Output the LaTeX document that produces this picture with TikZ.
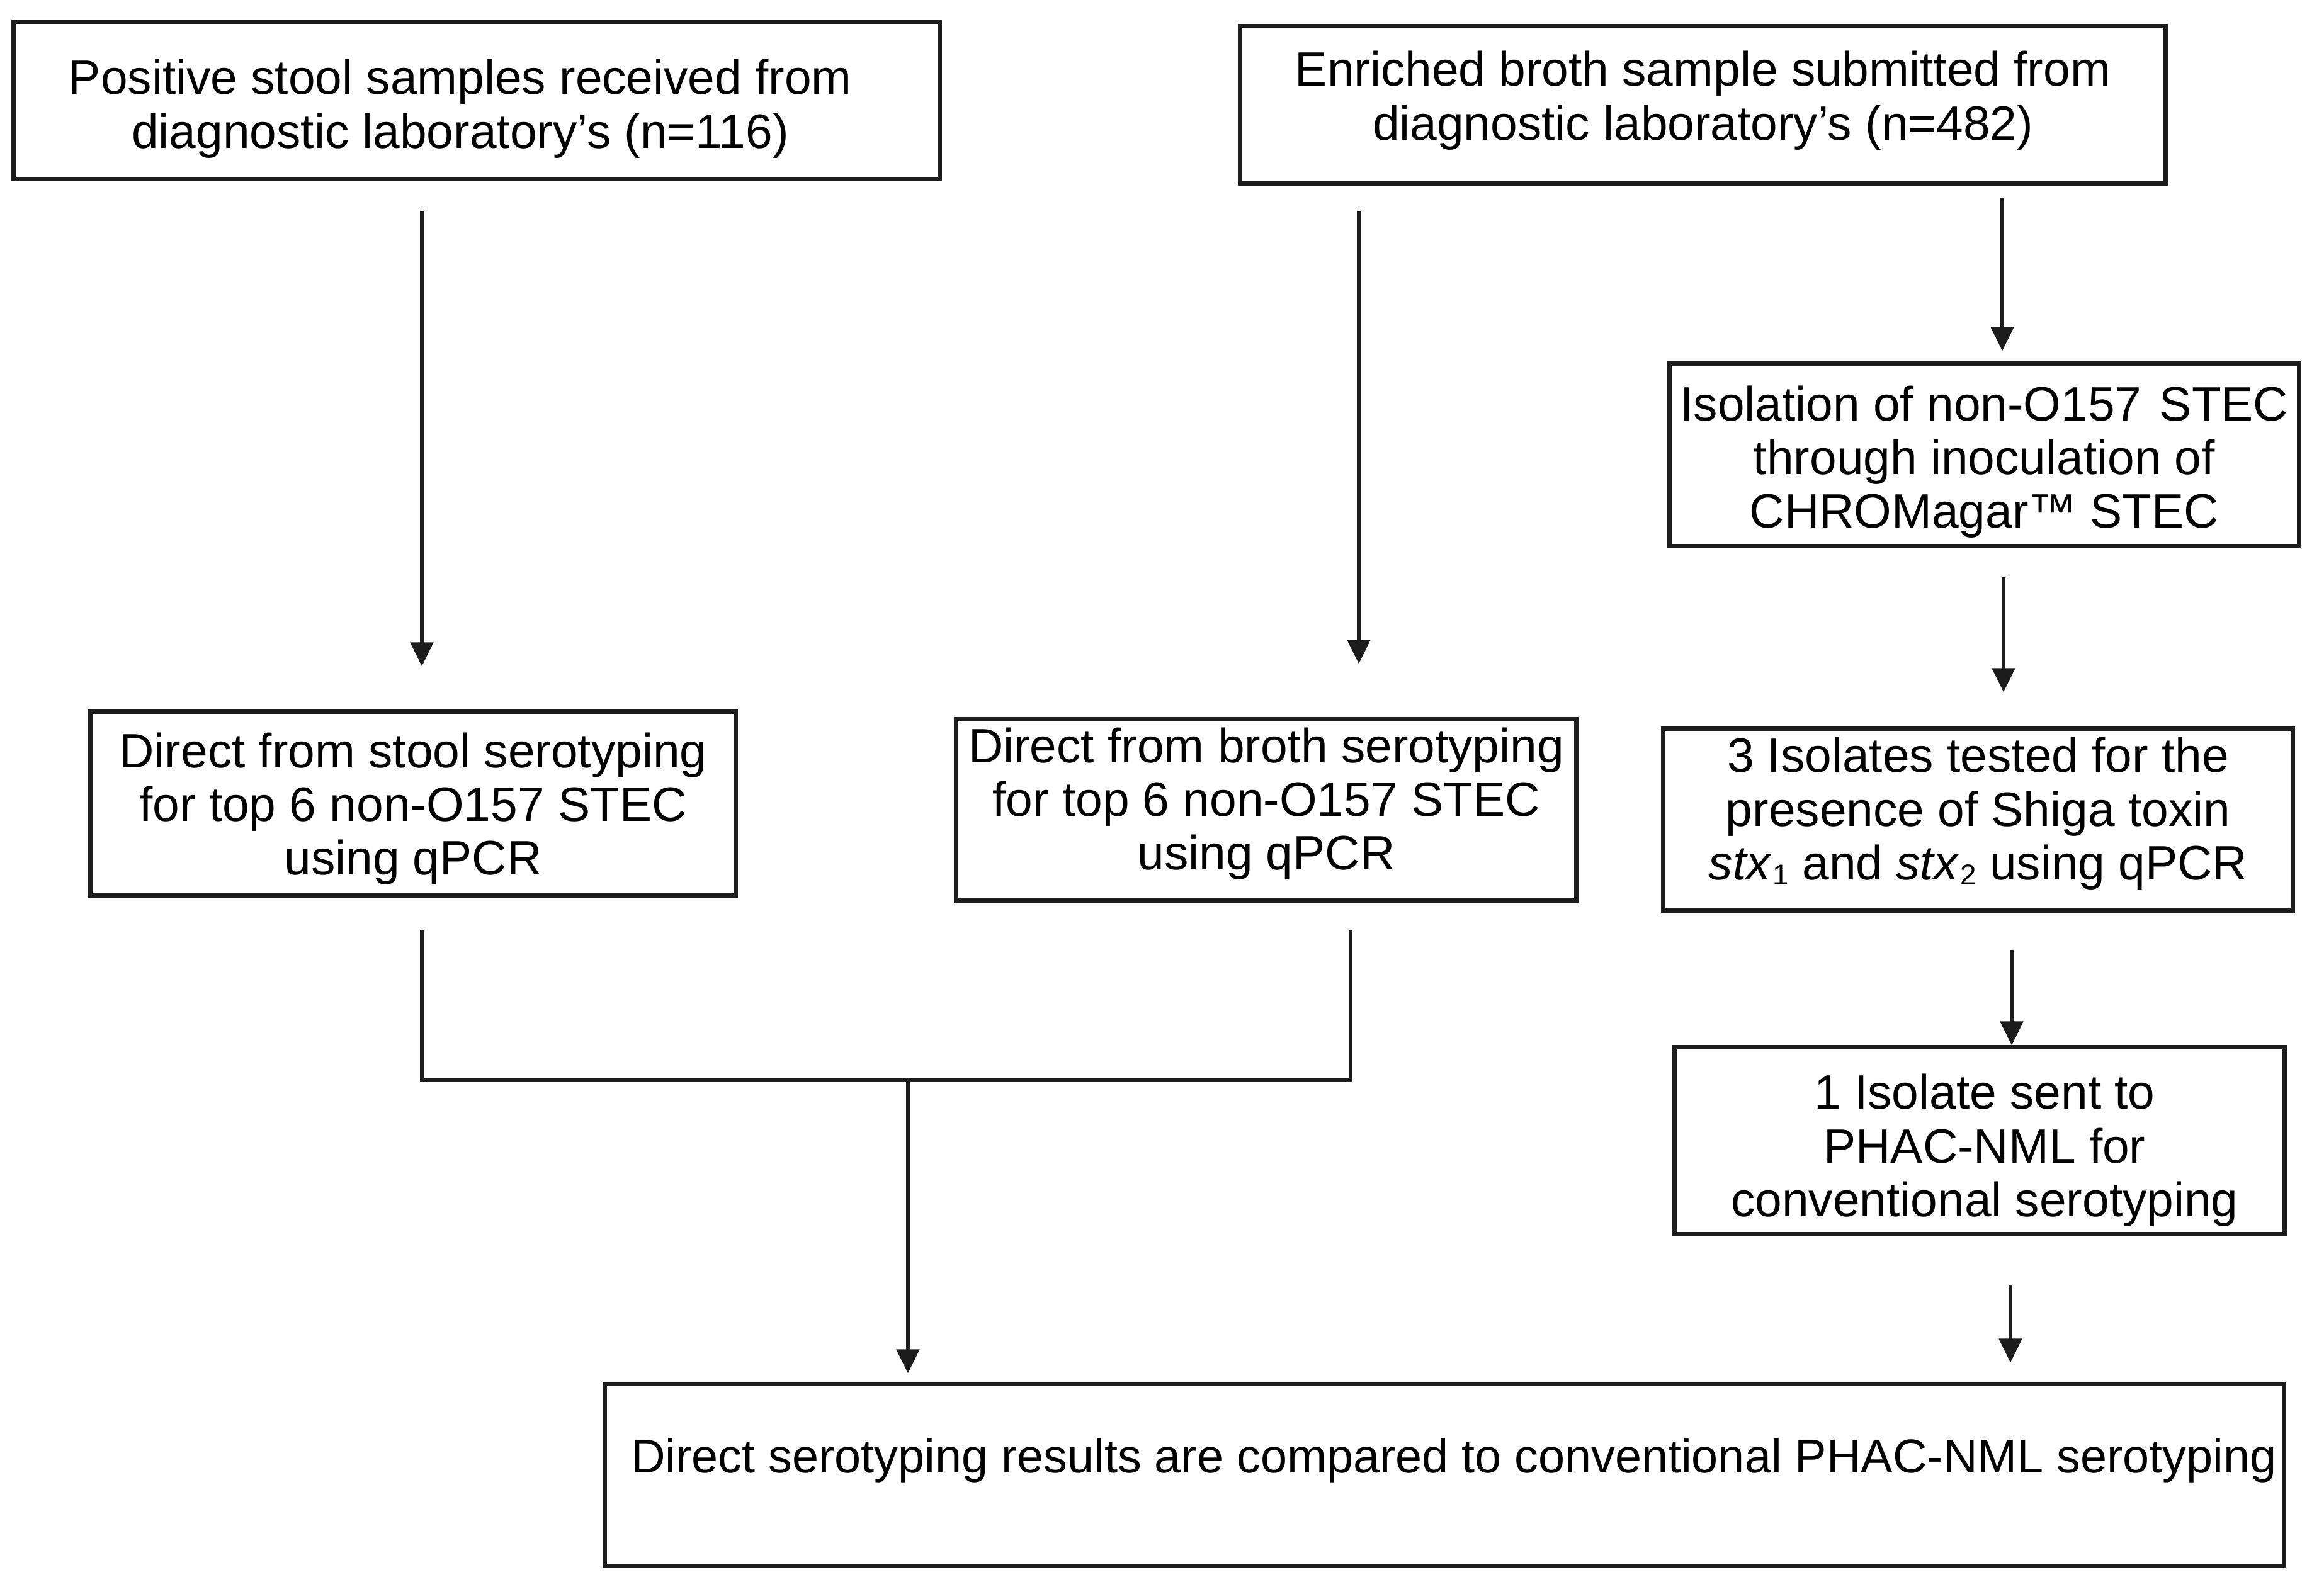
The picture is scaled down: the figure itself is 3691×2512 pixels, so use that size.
\documentclass[tikz,border=0pt]{standalone}
\usepackage{fontspec}
\setmainfont{Liberation Sans}
\usetikzlibrary{arrows.meta}
\definecolor{ink}{RGB}{28,28,28}
% shift the text block (dx right, dy up) without changing the node size
\newcommand\shiftedtext[3]{\raisebox{#2}[\height][\depth]{\kern#1\begin{tabular}{@{}c@{}}#3\end{tabular}\kern-#1}}
\newcommand\stxsub[1]{\textit{stx}\kern0.5pt{\fontsize{13}{13}\selectfont\raisebox{-2.5pt}{#1}}}
\begin{document}
\begin{tikzpicture}[x=0.01cm,y=-0.01cm,
  box/.style={draw=ink, line width=2pt, inner sep=0pt,
    font=\fontsize{21.8}{24.2}\selectfont},
  conn/.style={draw=ink, line width=1.5pt},
  arr/.style={conn, -{Triangle[length=0.38cm,width=0.36cm]}}]
\useasboundingbox (0,0) rectangle (3691,2512);
\fill[white] (0,0) rectangle (3691,2512);
% boxes
\node[box, minimum width=14.70cm, minimum height=2.49cm] (B1) at (757,159.5)
  {\shiftedtext{-0.26cm}{-0.16cm}{Positive stool samples received from\\diagnostic laboratory's (n=116)}};
\node[box, minimum width=14.69cm, minimum height=2.49cm] (B2) at (2704.5,166.5)
  {\shiftedtext{0cm}{0.04cm}{Enriched broth sample submitted from\\diagnostic laboratory's (n=482)}};
\node[box, minimum width=9.99cm, minimum height=2.89cm] (B3) at (3151.5,722.5)
  {\shiftedtext{0cm}{-0.14cm}{Isolation of non-O157\kern2pt\ STEC\\through inoculation of\\CHROMagar™ STEC}};
\node[box, minimum width=9.99cm, minimum height=2.88cm] (B4) at (3141.5,1302)
  {\shiftedtext{0cm}{0.07cm}{3 Isolates tested for the\\presence of Shiga toxin\\\stxsub{1} and \stxsub{2} using qPCR}};
\node[box, minimum width=9.68cm, minimum height=2.96cm] (B5) at (3144,1812)
  {\shiftedtext{0.08cm}{-0.18cm}{1 Isolate sent to\\PHAC-NML for\\conventional serotyping}};
\node[box, minimum width=10.24cm, minimum height=2.91cm] (B6) at (656,1276.5)
  {\shiftedtext{0cm}{-0.11cm}{Direct from stool serotyping\\for top 6 non-O157 STEC\\using qPCR}};
\node[box, minimum width=9.84cm, minimum height=2.87cm] (B7) at (2011,1286.5)
  {\shiftedtext{0cm}{0.07cm}{Direct from broth serotyping\\for top 6 non-O157 STEC\\using qPCR}};
\node[box, minimum width=26.66cm, minimum height=2.88cm, font=\fontsize{21.5}{24}\selectfont] (B8) at (2294,2343)
  {\shiftedtext{0.15cm}{0.20cm}{Direct serotyping results are compared to conventional PHAC-NML serotyping}};
% connector x positions
\coordinate (x1) at (670,0);
\coordinate (x2) at (2158,0);
\coordinate (x3) at (3180,0);
\coordinate (x4) at (3182,0);
\coordinate (x5) at (3195,0);
\coordinate (x6) at (3193,0);
\coordinate (m1) at (670,1716);
\coordinate (m2) at (2145,1716);
\coordinate (m3) at (1442,1716);
% arrows
\draw[arr, shorten <=0.47cm, shorten >=0.69cm] (B1.south -| x1) -- (B6.north -| x1);
\draw[arr, shorten <=0.40cm, shorten >=0.85cm] (B2.south -| x2) -- (B7.north -| x2);
\draw[arr, shorten <=0.19cm, shorten >=0.17cm] (B2.south -| x3) -- (B3.north -| x3);
\draw[arr, shorten <=0.46cm, shorten >=0.55cm] (B3.south -| x4) -- (B4.north -| x4);
\draw[arr, shorten <=0.59cm] (B4.south -| x5) -- (B5.north -| x5);
\draw[arr, shorten <=0.77cm, shorten >=0.31cm] (B5.south -| x6) -- (B8.north -| x6);
% merge of the two direct-serotyping branches
\draw[conn, shorten <=0.52cm, shorten >=0.44cm] (B6.south -| m1) -- (m1) -- (m2) -- (B7.south -| m2);
\draw[arr, shorten >=0.14cm] (m3) -- (B8.north -| m3);
\end{tikzpicture}
\end{document}
